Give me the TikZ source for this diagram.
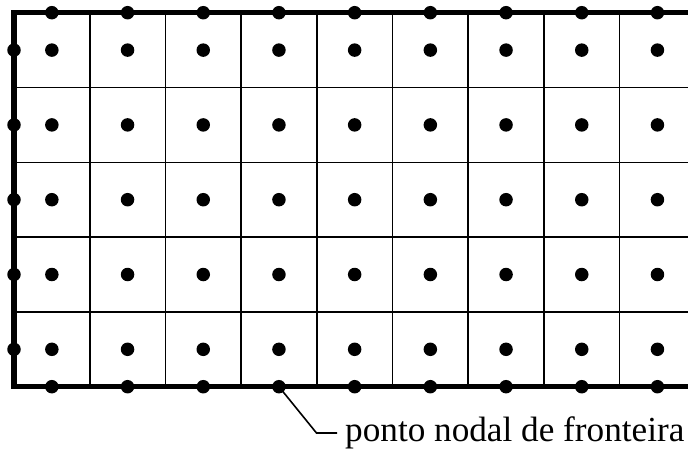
\documentclass[tikz,border=0pt]{standalone}
\usepackage{fontspec}
\setmainfont{Liberation Serif}
\begin{document}
\begin{tikzpicture}[x=1pt,y=-1pt,
  gridline/.style={line width=1.6pt},
  border/.style={line width=5.3pt},
  nodept/.style={circle,fill=black,inner sep=0pt,minimum size=13.5pt},
  leader/.style={line width=1.6pt},
  lbltext/.style={anchor=base west,inner sep=0pt,font=\fontsize{35.2}{40}\selectfont}]
\useasboundingbox (0,0) rectangle (688,448);
\def\cw{75.7}
\def\rh{74.8}
\def\xo{14}
\def\yo{12.7}
\def\yb{386.7}
% thin grid lines
\foreach \i in {1,...,9} \draw[gridline] ({\xo+\i*\cw},\yo) -- ({\xo+\i*\cw},\yb);
\foreach \j in {1,...,4} \draw[gridline] (\xo,{\yo+\j*\rh}) -- (700,{\yo+\j*\rh});
% thick boundary
\draw[border] (700,\yo) -- (\xo,\yo) -- (\xo,\yb) -- (700,\yb);
% interior nodal points
\foreach \i in {0,...,8} {
  \foreach \j in {0,...,4} {
    \node[nodept] (c-\i-\j) at ({\xo+(\i+0.5)*\cw},{\yo+(\j+0.5)*\rh}) {};
  }
}
% boundary nodal points
\foreach \i in {0,...,8} {
  \node[nodept] (t-\i) at ({\xo+(\i+0.5)*\cw},\yo) {};
  \node[nodept] (b-\i) at ({\xo+(\i+0.5)*\cw},\yb) {};
}
\foreach \j in {0,...,4} {
  \node[nodept] (l-\j) at (\xo,{\yo+(\j+0.5)*\rh}) {};
  \node[nodept] (r-\j) at ({\xo+9*\cw},{\yo+(\j+0.5)*\rh}) {};
}
% label
\node[lbltext] (lbl) at (345,441) {ponto nodal de fronteira};
\coordinate (bend) at (316.5,433);
\draw[leader] (b-3.center) -- (bend) -- ([xshift=-8pt]lbl.west |- bend);
\end{tikzpicture}
\end{document}
